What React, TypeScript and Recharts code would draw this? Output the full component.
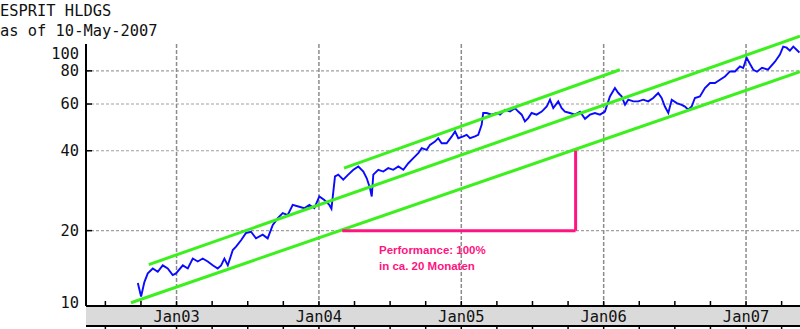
import { LineChart, Line, XAxis, YAxis, ReferenceLine } from 'recharts';

const FONT = '"DejaVu Sans Mono", monospace';

// Esprit Holdings close, time as decimal year
const priceDates = [
  2002.728, 2002.751, 2002.774, 2002.798, 2002.833, 2002.868, 2002.903, 2002.938, 2002.973, 2002.996,
  2003.044, 2003.079, 2003.114, 2003.149, 2003.184, 2003.219, 2003.254, 2003.289, 2003.313, 2003.336,
  2003.36, 2003.395, 2003.418, 2003.453, 2003.488, 2003.523, 2003.558, 2003.605, 2003.64, 2003.676,
  2003.711, 2003.746, 2003.781, 2003.816, 2003.862, 2003.897, 2003.933, 2003.968, 2004.003, 2004.038,
  2004.073, 2004.088, 2004.113, 2004.136, 2004.171, 2004.206, 2004.242, 2004.277, 2004.312, 2004.336,
  2004.359, 2004.371, 2004.382, 2004.417, 2004.452, 2004.487, 2004.522, 2004.558, 2004.593, 2004.628,
  2004.663, 2004.698, 2004.722, 2004.757, 2004.78, 2004.815, 2004.838, 2004.862, 2004.897, 2004.933,
  2004.956, 2004.979, 2005.014, 2005.038, 2005.061, 2005.096, 2005.119, 2005.143, 2005.154, 2005.178,
  2005.213, 2005.249, 2005.272, 2005.307, 2005.342, 2005.377, 2005.4, 2005.424, 2005.447, 2005.47,
  2005.494, 2005.529, 2005.565, 2005.6, 2005.623, 2005.646, 2005.681, 2005.705, 2005.728, 2005.763,
  2005.798, 2005.834, 2005.869, 2005.904, 2005.939, 2005.974, 2006.009, 2006.044, 2006.079, 2006.103,
  2006.126, 2006.15, 2006.173, 2006.208, 2006.243, 2006.278, 2006.313, 2006.348, 2006.383, 2006.407,
  2006.43, 2006.454, 2006.478, 2006.513, 2006.548, 2006.571, 2006.594, 2006.618, 2006.641, 2006.676,
  2006.711, 2006.747, 2006.782, 2006.817, 2006.852, 2006.887, 2006.922, 2006.957, 2006.98, 2007.004,
  2007.027, 2007.051, 2007.077, 2007.112, 2007.154, 2007.203, 2007.238, 2007.261, 2007.285, 2007.308,
  2007.332, 2007.355, 2007.375,
];
const priceValues = [
  12.7, 11.3, 12.8, 13.8, 14.4, 14.0, 14.8, 14.4, 13.6, 13.8,
  14.8, 14.4, 15.7, 15.3, 15.7, 15.3, 14.8, 14.4, 14.8, 15.7,
  14.8, 16.9, 17.4, 18.4, 19.6, 19.8, 18.7, 19.3, 18.7, 21.0,
  22.3, 23.3, 22.9, 25.0, 24.6, 24.3, 25.0, 24.3, 26.9, 26.1,
  25.0, 24.2, 32.0, 32.5, 31.1, 32.5, 33.9, 34.9, 33.4, 31.5,
  28.9, 26.9, 32.5, 33.9, 33.4, 34.4, 33.9, 34.9, 33.9, 35.9,
  37.5, 39.2, 40.9, 40.3, 42.1, 43.3, 44.6, 42.7, 42.7, 45.3,
  47.3, 44.6, 45.3, 45.9, 44.6, 45.3, 45.9, 50.1, 55.5, 55.5,
  54.7, 55.5, 54.7, 57.1, 56.2, 57.9, 56.2, 54.7, 51.6, 53.1,
  55.5, 54.7, 56.2, 58.7, 62.3, 57.9, 61.4, 57.9, 56.2, 55.5,
  54.7, 56.1, 52.8, 54.7, 55.5, 54.7, 56.2, 64.1, 68.9, 66.0,
  64.1, 59.6, 62.3, 61.4, 61.4, 62.3, 61.4, 63.2, 66.0, 63.2,
  58.7, 55.5, 62.3, 60.5, 59.6, 58.7, 57.1, 58.7, 63.2, 64.1,
  68.9, 72.0, 72.0, 74.1, 76.2, 79.6, 79.6, 83.2, 82.0, 89.7,
  85.1, 80.8, 79.4, 82.2, 80.8, 86.6, 92.1, 98.7, 97.8, 95.3,
  98.7, 96.1, 93.7,
];

const dateDomain = [2002.364, 2007.379];
const priceDomain = [10.4, 101];

const quarterTicks = [
  2002.5, 2002.75, 2003, 2003.25, 2003.5, 2003.75, 2004, 2004.25, 2004.5, 2004.75,
  2005, 2005.25, 2005.5, 2005.75, 2006, 2006.25, 2006.5, 2006.75, 2007, 2007.25,
];
const yearTicks = [2003, 2004, 2005, 2006, 2007];
const yearLabels = ['Jan03', 'Jan04', 'Jan05', 'Jan06', 'Jan07'];
const priceTicks = [10, 20, 40, 60, 80, 100];
const gridPrices = [20, 40, 60, 80];

// hand drawn trend channel: [start date, start price, end date, end price]
const trendLower = [2002.68, 10.7, 2007.379, 79.4];
const trendMiddle = [2002.805, 14.9, 2007.379, 108];
const trendUpper = [2004.176, 34.4, 2006.114, 80.8];
const trendLines = [trendLower, trendMiddle, trendUpper];

// performance marker: 20 -> 40 between these dates
const perfDates = [2004.164, 2005.803];
const perfPrices = [20, 40];

const data = priceDates.map((t, i) => ({ t, price: priceValues[i] }));

const GREEN = '#3cf01e';
const PINK = '#ff1480';

function PriceTick(props: any) {
  const { x, y, payload } = props;
  const ty = Math.min(Math.max(y, 54), 303);
  const inside = y > 50 && y < 300;
  return (
    <g>
      {inside && <line x1={x} x2={x + 6} y1={y} y2={y} stroke="#000" strokeWidth={1.5} />}
      <text x={x - 7} y={ty} dy="0.355em" textAnchor="end" fontFamily={FONT} fontSize={15.4} fill="#111">
        {payload.value}
      </text>
    </g>
  );
}

function DateTick(props: any) {
  const { x, y, payload } = props;
  const i = yearTicks.indexOf(payload.value);
  return (
    <g>
      <line x1={x} x2={x} y1={y} y2={y - 5} stroke="#000" strokeWidth={1.5} />
      {i >= 0 && (
        <text x={x} y={y + 11} dy="0.355em" textAnchor="middle" fontFamily={FONT} fontSize={15.4} fill="#111">
          {yearLabels[i]}
        </text>
      )}
      <line x1={x} x2={x} y1={y + 21} y2={y + 24} stroke="#000" strokeWidth={1.5} />
    </g>
  );
}

export default function App() {
  return (
    <div style={{ position: 'absolute', left: 0, top: 0, width: 800, height: 329, background: '#fff', overflow: 'hidden' }}>
      <div style={{ position: 'absolute', left: 0, top: 1, fontFamily: FONT, fontSize: 15.4, lineHeight: '20px', color: '#111', whiteSpace: 'pre' }}>
        ESPRIT HLDGS
      </div>
      <div style={{ position: 'absolute', left: 0, top: 21, fontFamily: FONT, fontSize: 15.4, lineHeight: '20px', color: '#111', whiteSpace: 'pre' }}>
        as of 10-May-2007
      </div>
      <div style={{ position: 'absolute', left: 86, top: 306, width: 714, height: 19, background: '#dadada', borderBottom: '2px solid #000' }} />
      <div style={{ position: 'absolute', left: 0, top: 0 }}>
        <LineChart width={800} height={329} data={data} margin={{ top: 44, right: 0, bottom: 0, left: 0 }}>
          <XAxis
            xAxisId="date"
            dataKey="t"
            type="number"
            domain={dateDomain}
            allowDataOverflow
            ticks={quarterTicks}
            interval={0}
            height={23}
            tickSize={0}
            tickMargin={0}
            tickLine={false}
            axisLine={{ stroke: '#000', strokeWidth: 2 }}
            tick={<DateTick />}
          />
          <XAxis
            xAxisId="top"
            orientation="top"
            type="number"
            domain={dateDomain}
            allowDataOverflow
            ticks={quarterTicks}
            interval={0}
            mirror
            height={0}
            tickSize={5}
            tick={false}
            tickLine={{ stroke: '#000', strokeWidth: 1.5 }}
            axisLine={{ stroke: '#000', strokeWidth: 2 }}
          />
          <YAxis
            yAxisId="price"
            scale="log"
            type="number"
            domain={priceDomain}
            allowDataOverflow
            ticks={priceTicks}
            interval={0}
            width={86}
            tickSize={0}
            tickMargin={0}
            tickLine={false}
            axisLine={{ stroke: '#000', strokeWidth: 2 }}
            tick={<PriceTick />}
          />
          <YAxis
            yAxisId="right"
            orientation="right"
            scale="log"
            type="number"
            domain={priceDomain}
            allowDataOverflow
            ticks={gridPrices}
            interval={0}
            mirror
            width={0}
            tickSize={7}
            tick={false}
            tickLine={{ stroke: '#000', strokeWidth: 1.5 }}
            axisLine={false}
          />

          {gridPrices.map((p) => (
            <ReferenceLine key={'h' + p} xAxisId="date" yAxisId="price" y={p} stroke="#a0a0a0" strokeWidth={1.2} strokeDasharray="3 2" />
          ))}
          {yearTicks.map((t) => (
            <ReferenceLine key={'v' + t} xAxisId="date" yAxisId="price" x={t} stroke="#8c8c8c" strokeWidth={1.5} strokeDasharray="4 2" />
          ))}

          <Line
            xAxisId="date"
            yAxisId="price"
            dataKey="price"
            type="linear"
            stroke="#0a0aff"
            strokeWidth={1.9}
            dot={false}
            isAnimationActive={false}
          />

          {trendLines.map((l, i) => (
            <ReferenceLine
              key={'trend' + i}
              xAxisId="date"
              yAxisId="price"
              segment={[{ x: l[0], y: l[1] }, { x: l[2], y: l[3] }]}
              ifOverflow="visible"
              stroke={GREEN}
              strokeWidth={3}
            />
          ))}

          <ReferenceLine
            xAxisId="date"
            yAxisId="price"
            segment={[{ x: perfDates[0], y: perfPrices[0] }, { x: perfDates[1], y: perfPrices[0] }]}
            ifOverflow="visible"
            stroke={PINK}
            strokeWidth={3}
          />
          <ReferenceLine
            xAxisId="date"
            yAxisId="price"
            segment={[{ x: perfDates[1], y: perfPrices[0] }, { x: perfDates[1], y: perfPrices[1] }]}
            ifOverflow="visible"
            stroke={PINK}
            strokeWidth={3}
          />
        </LineChart>
      </div>
      <div
        style={{
          position: 'absolute',
          left: 379,
          top: 242,
          fontFamily: '"Liberation Sans", Arial, sans-serif',
          fontWeight: 700,
          fontSize: 11.5,
          lineHeight: '16px',
          color: PINK,
          whiteSpace: 'pre',
        }}
      >
        {'Performance: 100%\nin ca. 20 Monaten'}
      </div>
    </div>
  );
}
